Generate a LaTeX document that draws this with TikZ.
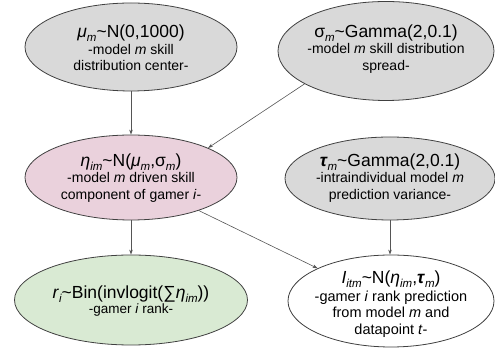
\documentclass[tikz,border=0pt]{standalone}
\usepackage{fontspec}
\setmainfont{Liberation Sans}
\usetikzlibrary{shapes.geometric,arrows.meta}
\newcommand{\sbs}[1]{\raisebox{-4pt}{\fontsize{11.5}{11.5}\selectfont\itshape #1}}
\newcommand{\mainln}[1]{{\fontsize{17.5}{16}\selectfont #1}}
\definecolor{grayfill}{HTML}{D9D9D9}
\definecolor{pinkfill}{HTML}{EAD1DC}
\definecolor{greenfill}{HTML}{D9EAD3}
\definecolor{edgecol}{HTML}{404040}
\definecolor{linecol}{HTML}{555555}
\begin{document}
\begin{tikzpicture}[x=1pt,y=1pt,
  varnode/.style={ellipse, draw=edgecol, line width=0.8pt, inner sep=0pt},
  vartext/.style={align=center, inner sep=0pt, font=\fontsize{14}{16.5}\selectfont},
  link/.style={draw=linecol, line width=0.6pt, -{Stealth[length=5pt,width=3.5pt]}}]
\useasboundingbox (0,0) rectangle (495,350);
% ellipses
\node[varnode, fill=grayfill, minimum width=212pt, minimum height=88pt] (mu) at (131,303) {};
\node[varnode, fill=grayfill, minimum width=216pt, minimum height=99pt] (sigma) at (386,299) {};
\node[varnode, fill=pinkfill, minimum width=212pt, minimum height=85pt] (eta) at (131,172.5) {};
\node[varnode, fill=grayfill, minimum width=210pt, minimum height=83pt] (tau) at (390,171.5) {};
\node[varnode, fill=greenfill, minimum width=233pt, minimum height=90pt] (r) at (131,50) {};
\node[varnode, fill=white, minimum width=206pt, minimum height=92pt] (I) at (391,49) {};
% texts
\node[vartext] (mutext) at (131,302) {\mainln{\textit{μ}\sbs{m}\textasciitilde N(0,1000)}\\-model \textit{m} skill\\distribution center-};
\node[vartext] (sigmatext) at (386,301) {\mainln{σ\sbs{m}\textasciitilde Gamma(2,0.1)}\\-model \textit{m} skill distribution\\spread-};
\node[vartext] (etatext) at (131,172) {\mainln{\textit{η}\sbs{im}\textasciitilde N(\textit{μ}\sbs{m},σ\sbs{m})}\\-model \textit{m} driven skill\\component of gamer \textit{i}-};
\node[vartext] (tautext) at (390,172) {\mainln{\textbf{\textit{τ}}\sbs{m}\textasciitilde Gamma(2,0.1)}\\-intraindividual model \textit{m}\\prediction variance-};
\node[vartext, font=\fontsize{13.5}{14.5}\selectfont] (rtext) at (131,49) {\mainln{\textit{r}\sbs{i}\textasciitilde Bin(invlogit(∑\textit{η}\sbs{im}))}\\-gamer \textit{i} rank-};
\node[vartext, font=\fontsize{14.5}{16.5}\selectfont] (Itext) at (391,46) {\mainln{\textit{I}\sbs{itm}\textasciitilde N(\textit{η}\sbs{im},\textbf{\textit{τ}}\sbs{m})}\\[1pt]-gamer \textit{i} rank prediction\\from model \textit{m} and\\datapoint \textit{t}-};
% connectors
\draw[link] (mu.south) -- (eta.north);
\draw[link] (sigma.202) -- (eta.21);
\draw[link] (eta.south) -- (r.north);
\draw[link] (eta.-26) -- (I.156);
\draw[link] (tau.south) -- (tau.south |- I.north);
\end{tikzpicture}
\end{document}
